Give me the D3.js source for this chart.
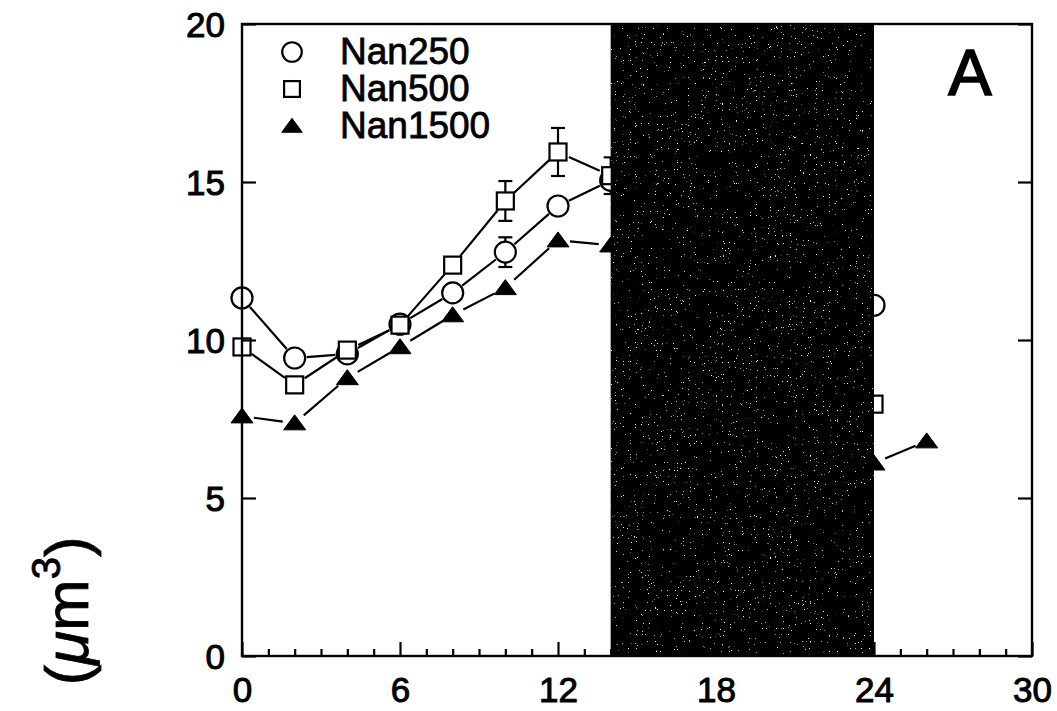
<!DOCTYPE html>
<html>
<head>
<meta charset="utf-8">
<script src="https://cdn.jsdelivr.net/npm/d3@7"></script>
<style>
  html, body { margin: 0; padding: 0; background: #fff; }
  svg { display: block; font-family: "Liberation Sans", Arial, Helvetica, sans-serif; }
</style>
</head>
<body>
<svg id="chart" width="1057" height="711"></svg>
<script>
// ---------------- data ----------------
const xTickLabels = [0, 6, 12, 18, 24, 30];
const yTickLabels = [0, 5, 10, 15, 20];
const seriesNames = ["Nan250", "Nan500", "Nan1500"];

const hours250 = [0, 2, 4, 6, 8, 10, 12, 14, 24];
const nan250   = [11.33, 9.43, 9.56, 10.5, 11.49, 12.78, 14.24, 15.05, 11.1];
const err250   = [null, null, null, null, null, 0.47, null, null, null];

const hours500 = [0, 2, 4, 6, 8, 10, 12, 14, 24];
const nan500   = [9.78, 8.58, 9.68, 10.47, 12.37, 14.4, 15.95, 15.2, 7.97];
const err500   = [0.22, null, null, null, null, 0.63, 0.76, 0.58, null];

const hours1500 = [0, 2, 4, 6, 8, 10, 12, 14, 24, 26];
const nan1500   = [7.59, 7.37, 8.8, 9.78, 10.79, 11.65, 13.16, 13.0, 6.1, 6.8];
const err1500   = [null, null, null, null, null, null, null, null, null, null];

const darkStart = 14, darkEnd = 24;   // dark period (hours)

// ---------------- layout ----------------
const svg = d3.select("#chart");
const L = 242, R = 1032, T = 24, B = 656;
const x = d3.scaleLinear().domain([0, 30]).range([L, R]);
const y = d3.scaleLinear().domain([0, 20]).range([B, T]);

const defs = svg.append("defs");
const f = defs.append("filter").attr("id", "speck")
  .attr("x", 0).attr("y", 0).attr("width", 1).attr("height", 1);
f.append("feTurbulence").attr("type", "fractalNoise").attr("baseFrequency", 0.85)
  .attr("numOctaves", 2).attr("seed", 7).attr("result", "noise");
f.append("feColorMatrix").attr("in", "noise").attr("type", "matrix")
  .attr("values", "0 0 0 0 1  0 0 0 0 1  0 0 0 0 1  14 0 0 0 -10.2").attr("result", "dots");
f.append("feComposite").attr("in", "dots").attr("in2", "SourceGraphic").attr("operator", "in").attr("result", "dotsIn");
const fm = f.append("feMerge");
fm.append("feMergeNode").attr("in", "SourceGraphic");
fm.append("feMergeNode").attr("in", "dotsIn");

const series = [
  { name: seriesNames[0], xs: hours250, ys: nan250, es: err250, shape: "circle" },
  { name: seriesNames[1], xs: hours500, ys: nan500, es: err500, shape: "square" },
  { name: seriesNames[2], xs: hours1500, ys: nan1500, es: err1500, shape: "triangle" }
];

function drawMarker(g, shape, cx, cy, scale) {
  const s = scale || 1;
  if (shape === "circle") {
    g.append("circle").attr("cx", cx).attr("cy", cy).attr("r", 10.5 * s)
      .attr("fill", "#fff").attr("stroke", "#000").attr("stroke-width", 2.2);
  } else if (shape === "square") {
    const h = 8.5 * s;
    g.append("rect").attr("x", cx - h).attr("y", cy - h).attr("width", 2 * h).attr("height", 2 * h)
      .attr("fill", "#fff").attr("stroke", "#000").attr("stroke-width", 2.2);
  } else {
    const w = 11 * s, hh = 15 * s;
    g.append("path")
      .attr("d", `M${cx},${cy - hh * 0.55} L${cx + w},${cy + hh * 0.45} L${cx - w},${cy + hh * 0.45} Z`)
      .attr("fill", "#000").attr("stroke", "#000").attr("stroke-width", 1);
  }
}

// lines (segments shortened so they stop at marker edges)
const gLines = svg.append("g");
series.forEach(s => {
  for (let i = 0; i < s.xs.length - 1; i++) {
    const x1 = x(s.xs[i]), y1 = y(s.ys[i]), x2 = x(s.xs[i + 1]), y2 = y(s.ys[i + 1]);
    const dx = x2 - x1, dy = y2 - y1, len = Math.hypot(dx, dy);
    const gap = 12;
    if (len <= 2 * gap) continue;
    gLines.append("line")
      .attr("x1", x1 + dx / len * gap).attr("y1", y1 + dy / len * gap)
      .attr("x2", x2 - dx / len * gap).attr("y2", y2 - dy / len * gap)
      .attr("stroke", "#000").attr("stroke-width", 2.2);
  }
});

// error bars
const gErr = svg.append("g").attr("stroke", "#000").attr("stroke-width", 2.2);
series.forEach(s => {
  s.xs.forEach((hx, i) => {
    const e = s.es[i];
    if (e == null) return;
    const cx = x(hx), yt = y(s.ys[i] + e), yb = y(s.ys[i] - e);
    gErr.append("line").attr("x1", cx).attr("x2", cx).attr("y1", yt).attr("y2", yb);
    gErr.append("line").attr("x1", cx - 7).attr("x2", cx + 7).attr("y1", yt).attr("y2", yt);
    gErr.append("line").attr("x1", cx - 7).attr("x2", cx + 7).attr("y1", yb).attr("y2", yb);
  });
});

// markers
const gMarks = svg.append("g");
series.forEach(s => {
  s.xs.forEach((hx, i) => drawMarker(gMarks, s.shape, x(hx), y(s.ys[i])));
});

// dark period band (on top of data)
svg.append("rect")
  .attr("x", x(darkStart)).attr("y", T)
  .attr("width", x(darkEnd) - x(darkStart)).attr("height", B - T)
  .attr("fill", "#050505").attr("filter", "url(#speck)");

// ---------------- axes ----------------
const fontSize = 35;
function styleAxis(g) {
  g.select(".domain").remove();
  g.selectAll("line").attr("stroke", "#000").attr("stroke-width", 2.2);
  g.selectAll("text").attr("font-size", fontSize).attr("fill", "#000")
    .attr("stroke", "#000").attr("stroke-width", 1.0)
    .attr("font-family", "'Liberation Sans', Arial, sans-serif");
}

// x major ticks
const gx = svg.append("g").attr("transform", `translate(0,${B})`)
  .call(d3.axisBottom(x).tickValues(xTickLabels).tickSizeInner(-14).tickSizeOuter(0).tickFormat(d3.format("d")));
styleAxis(gx);
gx.selectAll("text").attr("y", 46).attr("dy", 0);

// x minor ticks
const minor = d3.range(0, 31).filter(v => !xTickLabels.includes(v));
const gxm = svg.append("g").attr("transform", `translate(0,${B})`)
  .call(d3.axisBottom(x).tickValues(minor).tickSizeInner(-7).tickSizeOuter(0).tickFormat(""));
styleAxis(gxm);

// y left
const gy = svg.append("g").attr("transform", `translate(${L},0)`)
  .call(d3.axisLeft(y).tickValues(yTickLabels).tickSizeInner(-14).tickSizeOuter(0).tickPadding(17).tickFormat(d3.format("d")));
styleAxis(gy);
gy.selectAll("text").attr("dy", "0.36em");

// y right
const gyr = svg.append("g").attr("transform", `translate(${R},0)`)
  .call(d3.axisRight(y).tickValues(yTickLabels).tickSizeInner(-14).tickSizeOuter(0).tickFormat(""));
styleAxis(gyr);

// frame
svg.append("rect").attr("x", L).attr("y", T).attr("width", R - L).attr("height", B - T)
  .attr("fill", "none").attr("stroke", "#000").attr("stroke-width", 2.4);

// ---------------- legend ----------------
const gLeg = svg.append("g");
seriesNames.forEach((n, i) => {
  const cy = 52 + i * 37;
  drawMarker(gLeg, series[i].shape, 292, cy, 0.93);
  gLeg.append("text").attr("x", 340).attr("y", cy + 12).text(n)
    .attr("font-size", 37).attr("fill", "#000").attr("stroke", "#000").attr("stroke-width", 0.8);
});

// panel letter
svg.append("text").attr("x", 970).attr("y", 95).attr("text-anchor", "middle")
  .attr("font-size", 65).attr("fill", "#000").attr("stroke", "#000").attr("stroke-width", 1.6)
  .text("A");

// y axis label
const yl = svg.append("text")
  .attr("transform", "translate(88,611) rotate(-90)")
  .attr("text-anchor", "middle")
  .attr("font-size", 62).attr("fill", "#000").attr("stroke", "#000").attr("stroke-width", 0.8);
yl.append("tspan").text("(");
yl.append("tspan").attr("font-style", "italic").text("μ");
yl.append("tspan").text("m");
yl.append("tspan").attr("font-size", 40).attr("dy", -28).text("3");
yl.append("tspan").attr("dy", 28).text(")");
</script>
</body>
</html>
